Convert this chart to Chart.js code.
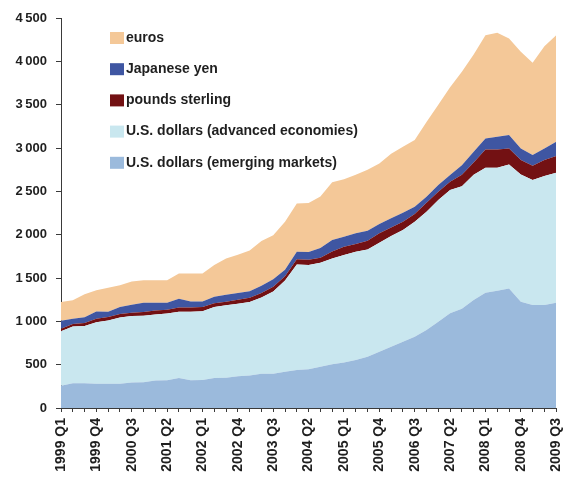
<!DOCTYPE html>
<html>
<head>
<meta charset="utf-8">
<script src="https://cdn.jsdelivr.net/npm/chart.js@4.4.1/dist/chart.umd.min.js"></script>
<style>
    html, body { margin: 0; padding: 0; background: #fff; }
    #wrap { position: relative; width: 579px; height: 477px; }
</style>
</head>
<body>
<div id="wrap"><canvas id="reservesChart" width="579" height="477"></canvas></div>
<script>
// Quarters, 1999 Q1 to 2009 Q3
const quarters = [
    '1999 Q1', '1999 Q2', '1999 Q3', '1999 Q4',
    '2000 Q1', '2000 Q2', '2000 Q3', '2000 Q4',
    '2001 Q1', '2001 Q2', '2001 Q3', '2001 Q4',
    '2002 Q1', '2002 Q2', '2002 Q3', '2002 Q4',
    '2003 Q1', '2003 Q2', '2003 Q3', '2003 Q4',
    '2004 Q1', '2004 Q2', '2004 Q3', '2004 Q4',
    '2005 Q1', '2005 Q2', '2005 Q3', '2005 Q4',
    '2006 Q1', '2006 Q2', '2006 Q3', '2006 Q4',
    '2007 Q1', '2007 Q2', '2007 Q3', '2007 Q4',
    '2008 Q1', '2008 Q2', '2008 Q3', '2008 Q4',
    '2009 Q1', '2009 Q2', '2009 Q3'
];

// Series values (stacked, bottom to top)
const usdEmerging = [
    257, 285, 285, 280, 280, 280, 295, 296, 318, 320, 345,
    320, 322, 345, 350, 365, 375, 396, 396, 419, 438, 446,
    477, 505, 525, 553, 592, 650, 707, 765, 823, 900, 996,
    1092, 1145, 1246, 1330, 1353, 1380, 1226, 1188, 1188, 1215
];
const usdAdvanced = [
    628, 655, 660, 710, 730, 765, 767, 769, 762, 770, 765,
    790, 793, 820, 835, 838, 847, 880, 949, 1051, 1217, 1204,
    1198, 1221, 1240, 1250, 1238, 1257, 1277, 1288, 1327, 1365, 1403,
    1423, 1415, 1444, 1442, 1419, 1431, 1469, 1442, 1488, 1500
];
const poundsSterling = [
    30, 30, 35, 40, 40, 40, 38, 43, 45, 45, 50,
    50, 50, 45, 41, 47, 50, 52, 55, 50, 60, 60,
    58, 80, 96, 89, 100, 108, 100, 97, 88, 104, 96,
    96, 130, 142, 212, 212, 184, 166, 165, 185, 192
];
const japaneseYen = [
    92, 60, 68, 83, 61, 80, 92, 107, 90, 80, 102,
    70, 65, 74, 81, 76, 75, 84, 85, 75, 88, 90,
    112, 132, 115, 123, 116, 107, 104, 103, 84, 69, 77,
    77, 110, 125, 127, 146, 154, 134, 123, 134, 165
];
const euros = [
    215, 212, 265, 245, 277, 252, 268, 259, 259, 259, 289,
    321, 323, 365, 419, 442, 471, 516, 507, 555, 558, 565,
    595, 667, 664, 675, 704, 698, 747, 762, 770, 862, 928,
    1012, 1080, 1123, 1191, 1199, 1115, 1115, 1065, 1180, 1230
];

const seriesNames = [
    'U.S. dollars (emerging markets)',
    'U.S. dollars (advanced economies)',
    'pounds sterling',
    'Japanese yen',
    'euros'
];
const seriesColors = ['#9bbadc', '#c9e7ef', '#731113', '#3f56a2', '#f4c898'];
const seriesData = [usdEmerging, usdAdvanced, poundsSterling, japaneseYen, euros];

const FONT = 'Liberation Sans, Arial, sans-serif';
const TEXT = '#1f1f1f';
const AXIS = '#3a3a3a';

// Legend drawn inside the plot area, top-left, top series first
const innerLegend = {
    id: 'innerLegend',
    afterDatasetsDraw(chart) {
        const ctx = chart.ctx;
        const rows = chart.data.datasets.slice().reverse();
        ctx.save();
        ctx.font = 'bold 14px ' + FONT;
        ctx.textBaseline = 'middle';
        rows.forEach((ds, i) => {
            const y = 38 + i * 31.2;
            ctx.fillStyle = ds.backgroundColor;
            ctx.fillRect(110, y - 6, 14, 12);
            ctx.fillStyle = TEXT;
            ctx.fillText(ds.label, 126, y);
        });
        ctx.restore();
    }
};

const ctx = document.getElementById('reservesChart').getContext('2d');

new Chart(ctx, {
    type: 'line',
    data: {
        labels: quarters,
        datasets: seriesData.map((values, i) => ({
            label: seriesNames[i],
            data: values,
            backgroundColor: seriesColors[i],
            borderWidth: 0,
            pointRadius: 0,
            tension: 0,
            fill: i === 0 ? 'origin' : '-1'
        }))
    },
    options: {
        responsive: false,
        devicePixelRatio: 1,
        animation: false,
        layout: {
            padding: { top: 18, right: 8, left: 0, bottom: 0 }
        },
        plugins: {
            legend: { display: false },
            tooltip: { enabled: false }
        },
        scales: {
            x: {
                offset: false,
                afterFit: scale => { scale.height = 69; },
                grid: {
                    drawOnChartArea: false,
                    drawTicks: true,
                    tickLength: 4,
                    color: AXIS
                },
                border: { color: AXIS, width: 1 },
                ticks: {
                    autoSkip: false,
                    maxRotation: 90,
                    minRotation: 90,
                    padding: 6,
                    color: TEXT,
                    font: { family: FONT, size: 14, weight: 'bold' },
                    callback: function (value, index) {
                        return index % 3 === 0 ? quarters[index] : '';
                    }
                }
            },
            y: {
                stacked: true,
                min: 0,
                max: 4500,
                afterFit: scale => { scale.width = 61; },
                grid: {
                    drawOnChartArea: false,
                    drawTicks: true,
                    tickLength: 5,
                    color: AXIS
                },
                border: { color: AXIS, width: 1 },
                ticks: {
                    stepSize: 500,
                    padding: 9,
                    color: TEXT,
                    font: { family: FONT, size: 13, weight: 'bold' },
                    callback: value => value >= 1000
                        ? Math.floor(value / 1000) + '\u2009' + String(value % 1000).padStart(3, '0')
                        : String(value)
                }
            }
        }
    },
    plugins: [innerLegend]
});
</script>
</body>
</html>
